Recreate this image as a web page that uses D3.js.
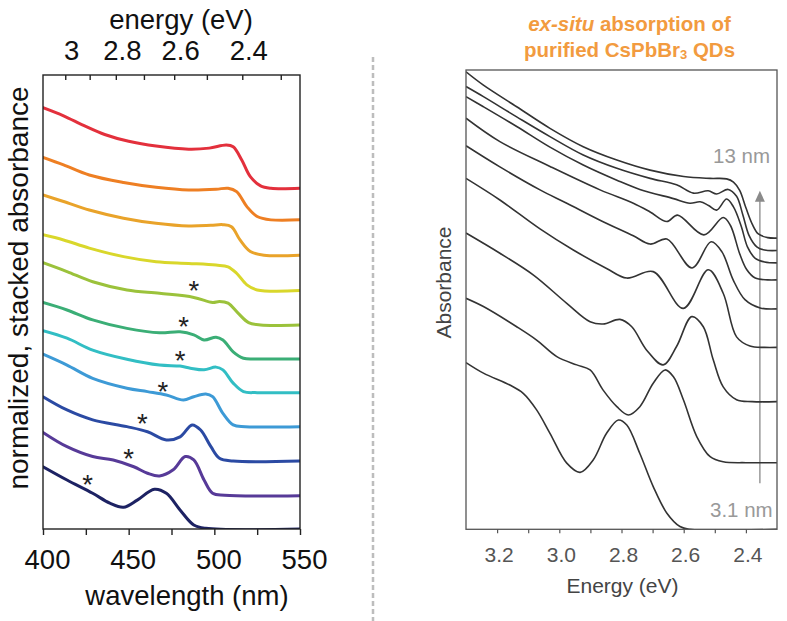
<!DOCTYPE html>
<html><head><meta charset="utf-8">
<script src="https://cdn.jsdelivr.net/npm/d3@7"></script>
<style>body{margin:0;background:#fff}svg{display:block;font-family:"Liberation Sans",Arial,Helvetica,sans-serif}</style>
</head><body><svg id="c" width="787" height="621"></svg>
<script>
// ---------- LEFT PANEL DATA (wavelength nm, stacked normalized absorbance) ----------
const leftXTicks = [400, 425, 450, 475, 500, 525, 550];
const leftXLabels = [400, 450, 500, 550];
const energyTicks = [3, 2.9, 2.8, 2.7, 2.6, 2.5, 2.4, 2.3];
const energyLabels = [3, 2.8, 2.6, 2.4];
const leftColors = ["#1d2263","#573a98","#2b4aa3","#3d9ad6","#32bec4","#3bae76","#9bc23b","#d9d72b","#e9a32a","#ee7f23","#e3303c"];
const navy = [[400,1.83],[414,1.44],[429,1.05],[439,0.76],[447,0.64],[455,0.85],[465,1.17],[472,1.05],[480,0.56],[488,0.12],[495,0.02],[550,0]];
const purple = [[400,2.84],[414,2.42],[429,2.13],[441,2.03],[453,1.83],[461,1.64],[468,1.56],[476,1.74],[483,2.13],[488,2.03],[494,1.44],[499,1.05],[506,0.99],[550,0.98]];
const blue = [[400,3.89],[414,3.5],[429,3.21],[449,3.01],[461,2.86],[472,2.62],[480,2.71],[487,3.06],[492,2.91],[498,2.42],[503,2.08],[511,2.0],[550,2.0]];
const lightBlue = [[400,5.14],[414,4.82],[429,4.43],[449,4.14],[461,4.04],[472,3.94],[482,3.79],[488,3.89],[495,3.97],[499,3.89],[505,3.40],[511,3.06],[518,3.01],[550,3.01]];
const teal = [[400,5.83],[414,5.61],[429,5.26],[449,4.99],[468,4.82],[480,4.79],[486,4.73],[494,4.68],[501,4.76],[505,4.68],[511,4.29],[517,4.04],[525,4.01],[550,4.01]];
const green = [[400,6.66],[414,6.44],[429,6.15],[449,5.90],[468,5.77],[480,5.80],[488,5.71],[494,5.56],[501,5.64],[505,5.56],[511,5.21],[517,5.02],[525,5.0],[550,5.0]];
const yellowGreen = [[400,7.83],[414,7.57],[429,7.27],[449,7.03],[468,6.93],[488,6.81],[499,6.66],[503,6.69],[508,6.64],[514,6.34],[520,6.07],[527,6.0],[550,6.0]];
const yellow = [[400,8.65],[412,8.5],[427,8.26],[447,8.01],[466,7.86],[485,7.81],[501,7.76],[508,7.71],[513,7.52],[519,7.18],[525,7.03],[550,7.01]];
const gold = [[400,9.82],[412,9.63],[427,9.38],[447,9.14],[466,8.99],[485,8.91],[498,8.93],[505,8.95],[510,8.89],[515,8.5],[521,8.16],[529,8.05],[550,8.05]];
const orange = [[400,10.93],[412,10.71],[427,10.41],[447,10.19],[466,10.05],[485,9.97],[501,9.99],[508,10.02],[513,9.92],[519,9.48],[525,9.19],[533,9.09],[550,9.09]];
const red = [[400,12.39],[412,12.15],[424,11.86],[436,11.6],[450,11.4],[466,11.26],[485,11.17],[497,11.2],[507,11.29],[511,11.24],[516,10.85],[521,10.36],[527,10.09],[533,10.02],[550,10.02]];
const leftSeries = [navy, purple, blue, lightBlue, teal, green, yellowGreen, yellow, gold, orange, red];
const asterisks = [[426,1.49],[450,2.24],[458,3.27],[470,4.21],[480,5.14],[482,6.12],[488,7.18]];

// ---------- RIGHT PANEL DATA (energy eV, absorbance offset) ----------
const rightXTicks = [3.2, 3.1, 3.0, 2.9, 2.8, 2.7, 2.6, 2.5, 2.4];
const rightXLabels = [3.2, 3.0, 2.8, 2.6, 2.4];
const r1 = [[3.30,9.96],[3.244,9.67],[3.137,9.20],[3.03,8.73],[2.923,8.33],[2.815,8.04],[2.708,7.82],[2.60,7.68],[2.515,7.64],[2.462,7.63],[2.44,7.56],[2.42,7.38],[2.40,7.0],[2.38,6.65],[2.36,6.43],[2.33,6.35],[2.30,6.34]];
const r2 = [[3.30,9.64],[3.244,9.42],[3.137,8.98],[3.03,8.55],[2.923,8.15],[2.815,7.86],[2.708,7.64],[2.623,7.50],[2.569,7.32],[2.521,7.37],[2.494,7.30],[2.457,7.40],[2.43,7.25],[2.41,6.85],[2.39,6.4],[2.365,6.15],[2.34,6.08],[2.30,6.07]];
const r3 = [[3.30,9.42],[3.244,9.20],[3.137,8.77],[3.03,8.32],[2.923,7.93],[2.815,7.60],[2.741,7.40],[2.633,7.20],[2.58,7.10],[2.547,7.13],[2.52,7.05],[2.494,6.95],[2.462,7.19],[2.44,7.02],[2.415,6.6],[2.395,6.15],[2.37,5.9],[2.34,5.82],[2.30,5.80]];
const r4 = [[3.30,8.95],[3.191,8.44],[3.03,7.90],[2.869,7.39],[2.762,7.10],[2.708,6.91],[2.654,6.70],[2.62,6.84],[2.535,6.41],[2.473,6.79],[2.45,6.62],[2.42,6.0],[2.397,5.65],[2.37,5.47],[2.33,5.43],[2.30,5.43]];
const r5 = [[3.30,8.35],[3.191,7.89],[3.062,7.39],[2.976,7.10],[2.869,6.73],[2.762,6.39],[2.708,6.21],[2.654,6.32],[2.573,5.69],[2.512,6.26],[2.477,6.04],[2.441,5.43],[2.403,5.00],[2.354,4.82],[2.30,4.80]];
const r6 = [[3.30,7.64],[3.191,7.17],[3.062,6.54],[2.955,6.08],[2.848,5.68],[2.783,5.47],[2.698,5.61],[2.601,4.81],[2.521,5.65],[2.473,5.14],[2.43,4.19],[2.387,3.99],[2.34,3.96],[2.30,3.96]];
const r7 = [[3.30,6.45],[3.191,6.01],[3.084,5.54],[2.976,4.92],[2.901,4.52],[2.859,4.47],[2.805,4.57],[2.767,4.41],[2.719,3.90],[2.666,3.58],[2.623,3.98],[2.574,4.63],[2.537,4.41],[2.505,3.69],[2.473,3.10],[2.43,2.82],[2.38,2.78],[2.30,2.78]];
const r8 = [[3.30,5.03],[3.244,4.85],[3.137,4.41],[3.073,4.12],[3.008,3.76],[2.944,3.58],[2.901,3.47],[2.859,3.03],[2.815,2.67],[2.778,2.49],[2.741,2.67],[2.698,3.18],[2.66,3.47],[2.633,3.32],[2.601,2.82],[2.558,2.02],[2.515,1.58],[2.473,1.47],[2.40,1.45],[2.30,1.45]];
const r9 = [[3.30,3.63],[3.244,3.40],[3.159,3.14],[3.116,2.96],[3.073,2.60],[3.03,2.09],[2.976,1.44],[2.933,1.24],[2.891,1.51],[2.848,2.09],[2.81,2.38],[2.783,2.27],[2.741,1.65],[2.698,0.93],[2.654,0.35],[2.612,0.06],[2.58,0],[2.30,0]];
const rightSeries = [r1, r2, r3, r4, r5, r6, r7, r8, r9];
const sizeLabels = ["13 nm", "3.1 nm"];

// ---------- DRAW ----------
const svg = d3.select("#c");
svg.append("rect").attr("width",787).attr("height",621).attr("fill","#fff");

// Left panel
const xL = d3.scaleLinear().domain([400,550]).range([43,300]);
const yL = d3.scaleLinear().domain([0,13.35]).range([529,75]);
const LF = 27.5;
const gL = svg.append("g");
gL.append("clipPath").attr("id","clipL").append("rect")
  .attr("x",xL(400)).attr("y",yL(13.35)).attr("width",xL(550)-xL(400)).attr("height",yL(0)-yL(13.35));
const lineL = d3.line().x(d=>xL(d[0])).y(d=>yL(d[1])).curve(d3.curveCatmullRom.alpha(0.5));
gL.append("g").attr("clip-path","url(#clipL)").selectAll("path").data(leftSeries).join("path")
  .attr("d",lineL).attr("fill","none").attr("stroke",(d,i)=>leftColors[i])
  .attr("stroke-width",3).attr("stroke-linejoin","round").attr("stroke-linecap","round");
gL.selectAll("text.ast").data(asterisks).join("text").attr("class","ast")
  .attr("x",d=>xL(d[0])).attr("y",d=>yL(d[1])).attr("dy","0.56em")
  .attr("text-anchor","middle").attr("font-size",LF).attr("fill","#222").text("*");
// frame
gL.append("rect").attr("x",xL(400)).attr("y",yL(13.35)).attr("width",xL(550)-xL(400)).attr("height",yL(0)-yL(13.35))
  .attr("fill","none").attr("stroke","#222").attr("stroke-width",1.4);
// bottom axis
const axB = gL.append("g").attr("transform",`translate(0,${yL(0)})`)
  .call(d3.axisBottom(xL).tickValues(leftXTicks).tickSize(6).tickSizeOuter(0)
    .tickFormat(d=>leftXLabels.includes(d)?d:""));
axB.select(".domain").remove();
axB.selectAll("line").attr("stroke","#222").attr("stroke-width",1.4);
axB.selectAll("text").attr("font-size",LF).attr("font-family","Liberation Sans, Arial, sans-serif")
  .attr("fill","#111").attr("y",20).attr("dx",4);
// top energy axis
const gT = gL.append("g");
gT.selectAll("line").data(energyTicks).join("line")
  .attr("x1",e=>xL(1239.84/e)).attr("x2",e=>xL(1239.84/e))
  .attr("y1",yL(13.35)).attr("y2",yL(13.35)+5).attr("stroke","#222").attr("stroke-width",1.4);
gT.selectAll("text").data(energyLabels).join("text")
  .attr("x",e=>xL(1239.84/e)).attr("y",60).attr("dx",6).attr("text-anchor","middle")
  .attr("font-size",LF).attr("fill","#111").text(e=>e);
gL.append("text").attr("x",181).attr("y",29).attr("text-anchor","middle").attr("font-size",LF).attr("fill","#111").text("energy (eV)");
gL.append("text").attr("x",187).attr("y",605).attr("text-anchor","middle").attr("font-size",LF).attr("fill","#111").text("wavelength (nm)");
gL.append("text").attr("transform","translate(28,288) rotate(-90)").attr("text-anchor","middle")
  .attr("font-size",28).attr("fill","#111").text("normalized, stacked absorbance");

// separator
svg.append("line").attr("x1",373).attr("x2",373).attr("y1",57).attr("y2",621)
  .attr("stroke","#bdbdbd").attr("stroke-width",2.5).attr("stroke-dasharray","5,3");

// Right panel
const xR = d3.scaleLinear().domain([3.3,2.3]).range([466,777]);
const yR = d3.scaleLinear().domain([0,10]).range([529.3,70]);
const gR = svg.append("g");
gR.append("clipPath").attr("id","clipR").append("rect")
  .attr("x",xR(3.3)).attr("y",yR(10)).attr("width",xR(2.3)-xR(3.3)).attr("height",yR(0)-yR(10));
// arrow annotation
gR.append("line").attr("x1",xR(2.355)).attr("x2",xR(2.355)).attr("y1",yR(1.0)).attr("y2",yR(7.15))
  .attr("stroke","#8a8a8a").attr("stroke-width",1.3);
gR.append("path").attr("d",`M${xR(2.355)},${yR(7.37)} L${xR(2.355)-5},${yR(7.13)} L${xR(2.355)+5},${yR(7.13)} Z`)
  .attr("fill","#8a8a8a");
const lineR = d3.line().x(d=>xR(d[0])).y(d=>yR(d[1])).curve(d3.curveCatmullRom.alpha(0.5));
gR.append("g").attr("clip-path","url(#clipR)").selectAll("path").data(rightSeries).join("path")
  .attr("d",lineR).attr("fill","none").attr("stroke","#333").attr("stroke-width",1.6).attr("stroke-linejoin","round");
gR.append("rect").attr("x",xR(3.3)).attr("y",yR(10)).attr("width",xR(2.3)-xR(3.3)).attr("height",yR(0)-yR(10))
  .attr("fill","none").attr("stroke","#555").attr("stroke-width",1.3);
const axR = gR.append("g").attr("transform",`translate(0,${yR(0)})`)
  .call(d3.axisBottom(xR).tickValues(rightXTicks).tickSize(4).tickSizeOuter(0)
    .tickFormat(d=>rightXLabels.some(v=>Math.abs(v-d)<1e-9)?d3.format(".1f")(d):""));
axR.select(".domain").remove();
axR.selectAll("line").attr("stroke","#555").attr("stroke-width",1.2);
axR.selectAll("text").attr("font-size",21).attr("font-family","Liberation Sans, Arial, sans-serif")
  .attr("fill","#555").attr("y",18).attr("dx",1.5);
gR.append("text").attr("x",622.5).attr("y",593).attr("text-anchor","middle").attr("font-size",21).attr("fill","#444").text("Energy (eV)");
gR.append("text").attr("transform","translate(451,282.5) rotate(-90)").attr("text-anchor","middle")
  .attr("font-size",21).attr("fill","#444").text("Absorbance");
gR.append("text").attr("x",713).attr("y",163).attr("font-size",20.5).attr("fill","#999").text(sizeLabels[0]);
gR.append("text").attr("x",710).attr("y",516.7).attr("font-size",20.5).attr("fill","#999").text(sizeLabels[1]);
// title
const t1 = gR.append("text").attr("x",629.5).attr("y",31).attr("text-anchor","middle")
  .attr("font-size",20.5).attr("font-weight","bold").attr("fill","#f29b3f");
t1.append("tspan").attr("font-style","italic").text("ex-situ");
t1.append("tspan").text(" absorption of");
const t2 = gR.append("text").attr("x",629.5).attr("y",57).attr("text-anchor","middle")
  .attr("font-size",20.5).attr("font-weight","bold").attr("fill","#f29b3f");
t2.append("tspan").text("purified CsPbBr");
t2.append("tspan").attr("font-size",13).attr("dy",2).text("3");
t2.append("tspan").attr("dy",-2).text(" QDs");
</script></body></html>
